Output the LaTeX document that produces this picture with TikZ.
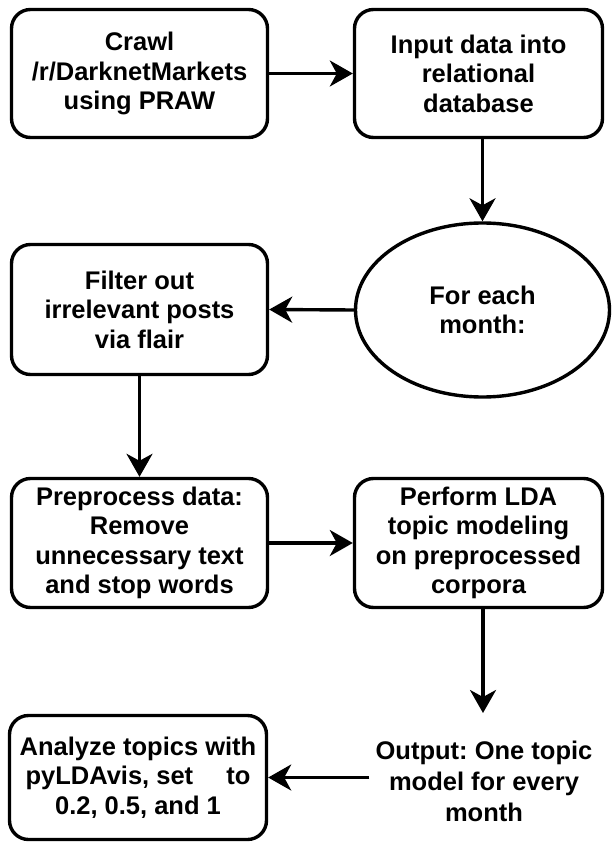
\documentclass[tikz,border=0pt]{standalone}
\usepackage{fontspec}
\setmainfont{Liberation Sans}
\usetikzlibrary{shapes.geometric,arrows.meta,calc}
\frenchspacing
\begin{document}
\begin{tikzpicture}[x=1pt,y=1pt,
  lbl/.style={font=\fontsize{25.5}{29.5}\selectfont\bfseries\frenchspacing, align=center, text=black},
  stepbox/.style={lbl, draw=black, line width=3.4pt, rounded corners=19pt, inner sep=0pt},
  ovalbox/.style={lbl, draw=black, line width=3.4pt, ellipse, inner sep=0pt},
  conn/.style={line width=3.4pt, -{Stealth[length=23pt,width=26pt,inset=7pt]}}
]
\useasboundingbox (0,0) rectangle (612,-842);
\node[stepbox, minimum width=256pt, minimum height=128pt] (b1) at (139.5,-73.5) {Crawl\\/r/DarknetMarkets\\using PRAW};
\node[stepbox, minimum width=248pt, minimum height=128pt] (b2) at (478.5,-73.5) {Input data into\\relational\\database};
\node[ovalbox, minimum width=254pt, minimum height=174pt] (ell) at (482.5,-310) {For each\\month:};
\node[stepbox, minimum width=256pt, minimum height=130pt] (b3) at (139.5,-309.5) {Filter out\\irrelevant posts\\via flair};
\node[stepbox, minimum width=256pt, minimum height=129pt] (b4) at (139.5,-543) {Preprocess data:\\Remove\\unnecessary text\\and stop words};
\node[stepbox, minimum width=248pt, minimum height=129pt] (b5) at (478.5,-543) {Perform LDA\\topic modeling\\on preprocessed\\corpora};
\node[lbl, font=\fontsize{25.5}{31}\selectfont\bfseries, inner sep=6pt] (out) at (484,-781) {Output: One topic\\model for every\\month};
\node[stepbox, minimum width=257pt, minimum height=124pt] (b6) at (138,-777.5) {Analyze topics with\\pyLDAvis, set\hspace{26pt} to\\0.2, 0.5, and 1};
\coordinate (outtop) at (483,-713);
\draw[conn] (b1.east) -- (b2.west);
\draw[conn] (b2.south -| ell.north) -- (ell.north);
\draw[conn] (ell.west) -- (b3.east);
\draw[conn] (b3.south) -- (b4.north);
\draw[conn] (b4.east) -- (b5.west);
\draw[conn] (b5.south -| outtop) -- (outtop);
\draw[conn] (out.west |- b6.east) -- (b6.east);
\end{tikzpicture}
\end{document}
